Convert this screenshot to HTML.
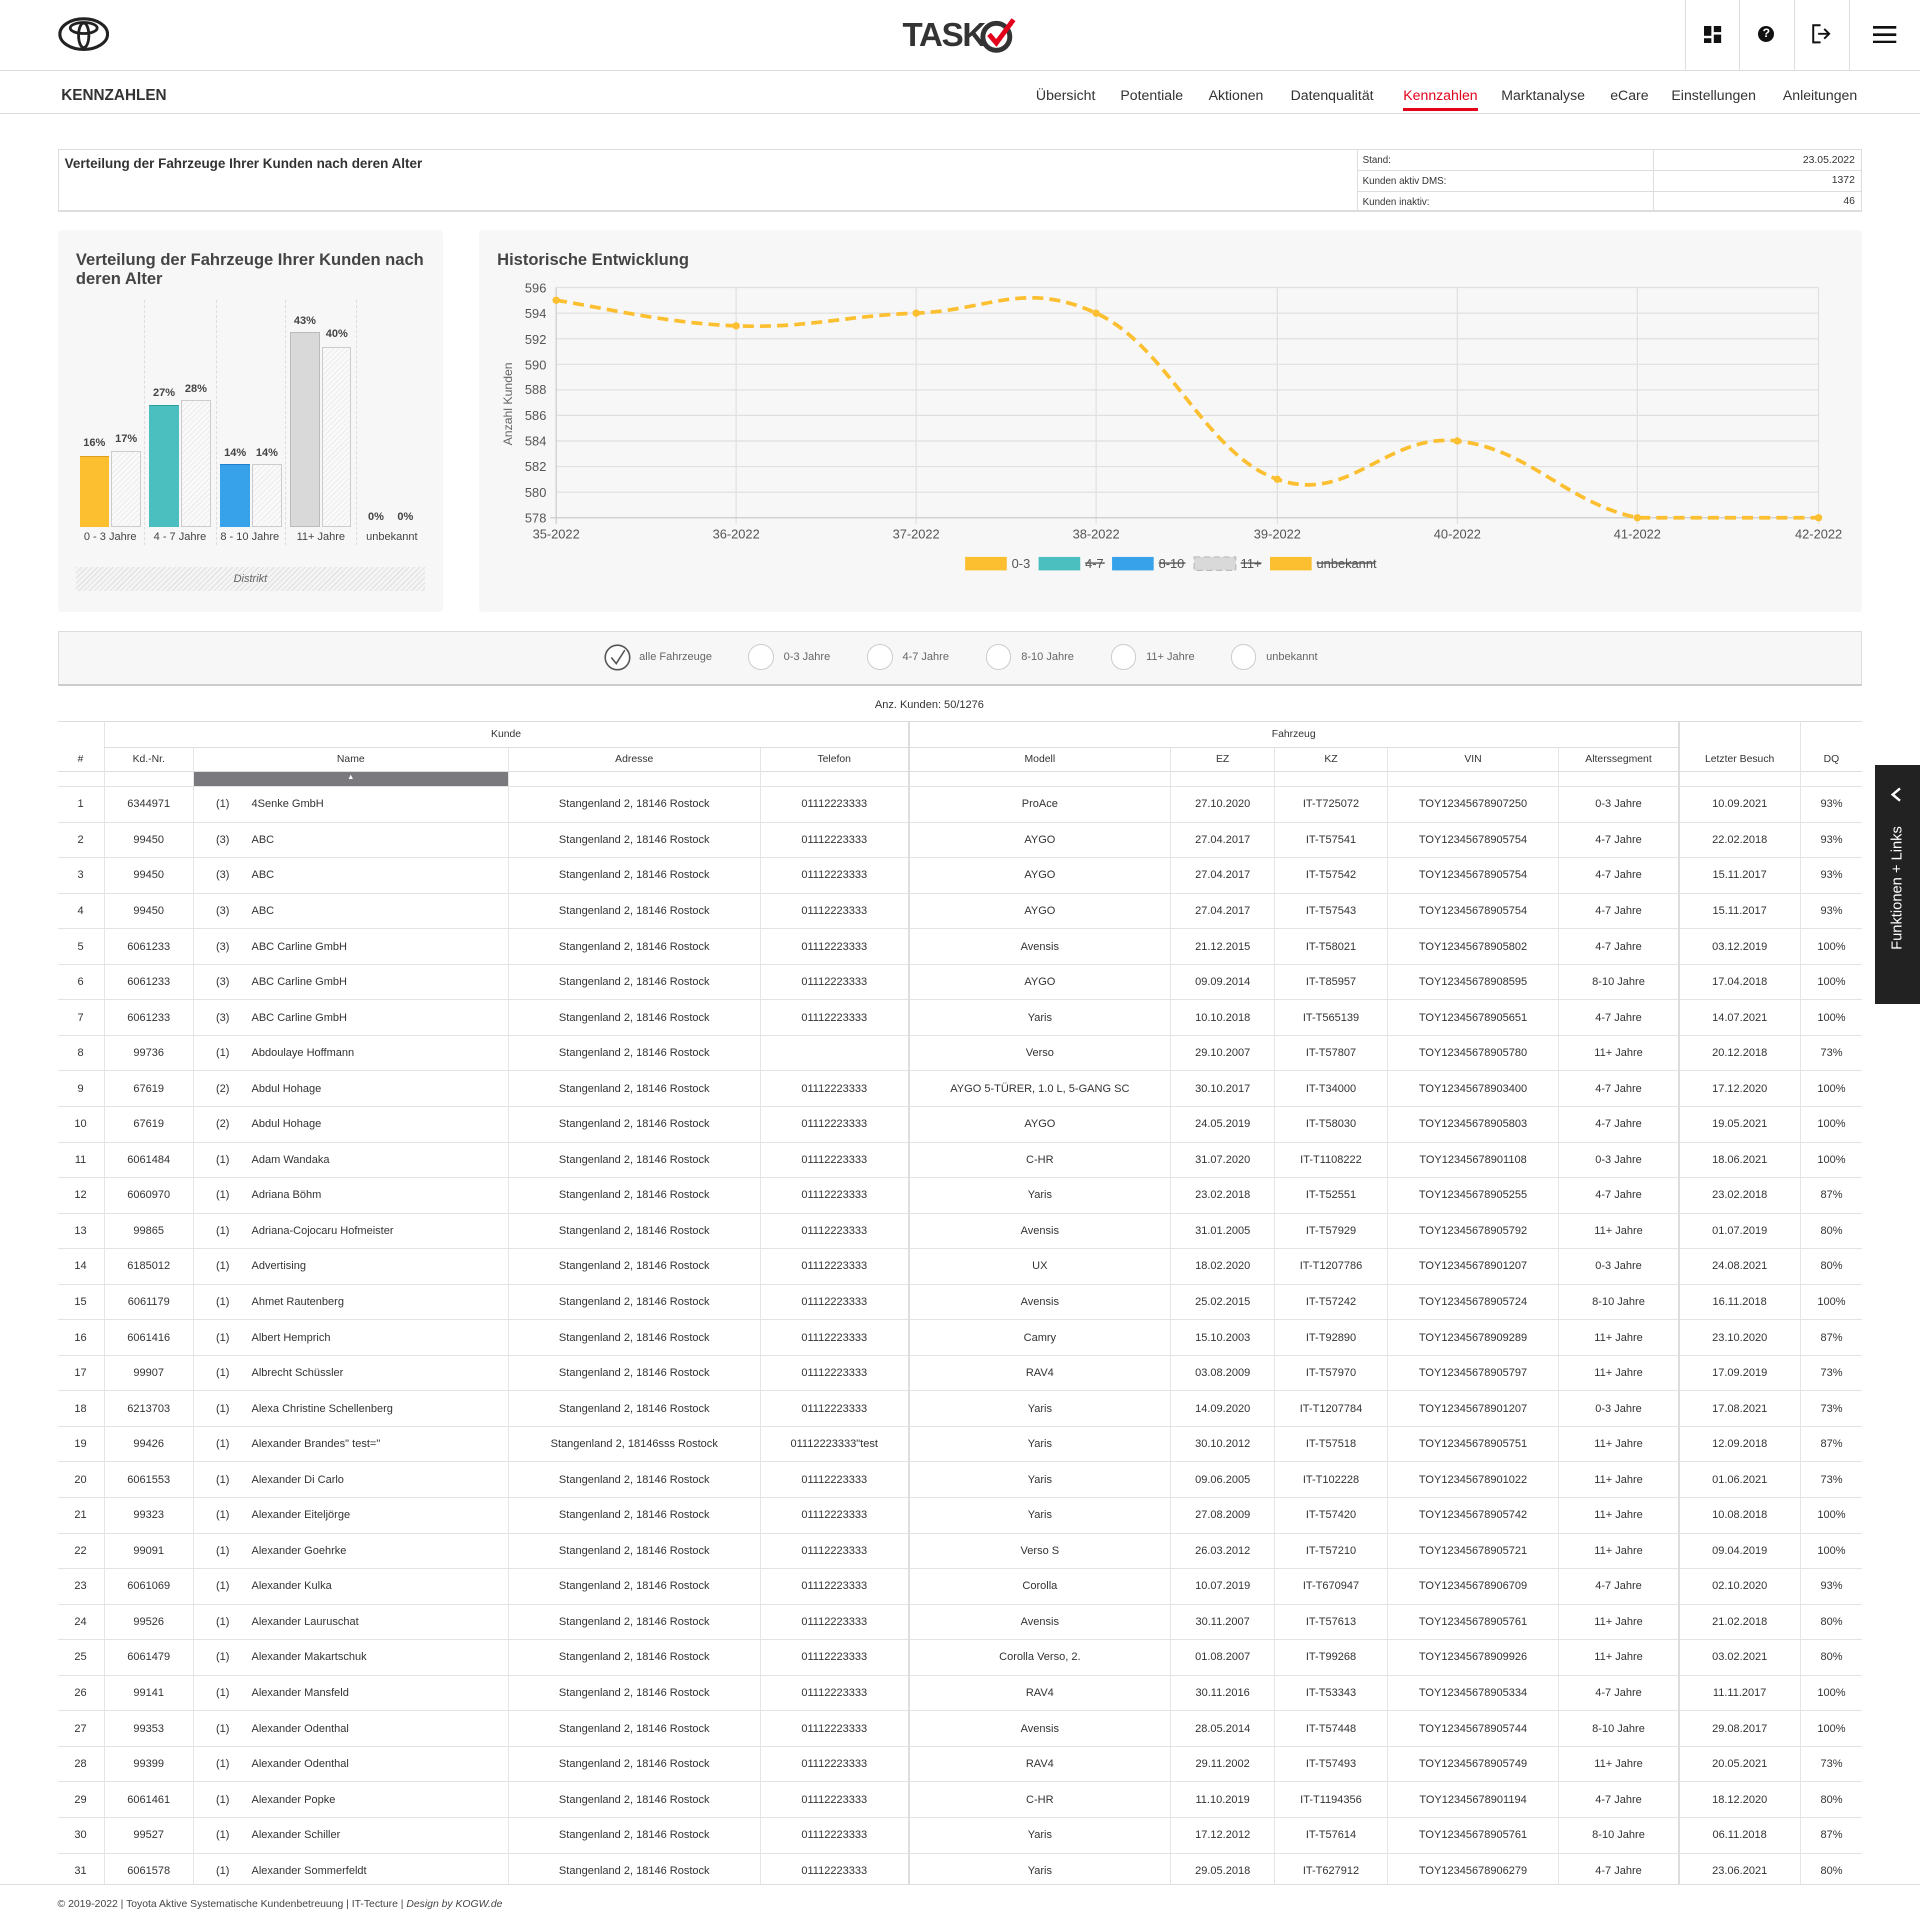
<!DOCTYPE html>
<html><head><meta charset="utf-8">
<style>
html,body{margin:0;padding:0;background:#fff;}
body{width:1920px;height:1920px;overflow:hidden;}
#w{width:1568px;height:1568px;position:relative;zoom:1.22449;font-family:"Liberation Sans",sans-serif;color:#333;overflow:hidden;}
.a{position:absolute;}
.hdr{left:0;top:0;width:1568px;height:57px;border-bottom:1px solid #ddd;}
.nav{left:0;top:58px;width:1568px;height:34px;border-bottom:1px solid #ddd;}
.nav span{position:absolute;top:13px;font-size:11.5px;color:#333;}
.ib{left:47px;top:122px;width:1472px;height:49px;border:1px solid #ddd;border-bottom:2px solid #ddd;}
.panel{background:#f7f7f7;border-radius:3px;}
.hatch{background:repeating-linear-gradient(135deg,#eee 0 1px,#fafafa 1px 3px);border:1px solid #ccc;box-sizing:border-box;}
.bl{position:absolute;font-size:9px;color:#444;font-weight:bold;text-align:center;width:30px;}
.xl{position:absolute;top:434px;font-size:9px;color:#444;text-align:center;width:60px;}
table{border-collapse:collapse;table-layout:fixed;position:absolute;left:47px;top:589px;width:1474px;font-size:9px;}
td,th{text-align:center;padding:0;white-space:nowrap;overflow:hidden;font-weight:normal;color:#333;}
tbody td{height:28.22px;border-top:1px solid #e3e3e3;}
th{font-size:8.5px;}
.bl2{border-left:2px solid #ddd;}
.bl1{border-left:1px solid #e5e5e5;}
td.n{text-align:left;}
td.n i{font-style:normal;display:inline-block;width:47px;text-align:left;padding-left:18px;box-sizing:border-box;}
.rd{position:absolute;top:526px;width:21px;height:21px;border:1px solid #ccc;border-radius:50%;box-sizing:border-box;background:#fff;}
.rl{position:absolute;top:532px;font-size:9px;color:#666;}
</style></head><body><div id="w">
<div class="a hdr">
 <svg class="a" style="left:47px;top:14px" width="42" height="28" viewBox="0 0 42 28"><ellipse cx="21" cy="14" rx="19.5" ry="12.5" fill="none" stroke="#222" stroke-width="2.5"/><ellipse cx="21" cy="9" rx="11" ry="4.5" fill="none" stroke="#222" stroke-width="2.3"/><ellipse cx="21" cy="15" rx="4.2" ry="10" fill="none" stroke="#222" stroke-width="2.3"/></svg>
 <div class="a" style="left:737px;top:14px;font-size:27px;font-weight:bold;color:#333;letter-spacing:-1px;">TASK</div>
 <svg class="a" style="left:799px;top:13px" width="32" height="32" viewBox="0 0 32 32"><circle cx="15" cy="17" r="11" fill="none" stroke="#333" stroke-width="4"/><path d="M9 15 L15 22 L29 3" fill="none" stroke="#e2001a" stroke-width="4"/></svg>
 <div class="a" style="left:1376px;top:0;width:1px;height:57px;background:#ddd"></div>
 <div class="a" style="left:1420px;top:0;width:1px;height:57px;background:#ddd"></div>
 <div class="a" style="left:1465px;top:0;width:1px;height:57px;background:#ddd"></div>
 <div class="a" style="left:1510px;top:0;width:1px;height:57px;background:#ddd"></div>
 <svg class="a" style="left:1392px;top:21px" width="14" height="14"><rect x="0" y="0" width="6" height="8" fill="#111"/><rect x="8" y="0" width="6" height="5" fill="#111"/><rect x="0" y="10" width="6" height="4" fill="#111"/><rect x="8" y="7" width="6" height="7" fill="#111"/></svg>
 <div class="a" style="left:1436px;top:21px;width:13px;height:13px;border-radius:50%;background:#111;color:#fff;font-size:10px;font-weight:bold;text-align:center;line-height:13px;">?</div>
 <svg class="a" style="left:1480px;top:20px" width="16" height="16"><path d="M7 1 H1 V15 H7" fill="none" stroke="#111" stroke-width="1.6"/><path d="M5 8 H14 M10 4 L14 8 L10 12" fill="none" stroke="#111" stroke-width="1.6"/></svg>
 <svg class="a" style="left:1530px;top:21px" width="19" height="14"><rect y="0" width="19" height="2.2" fill="#111"/><rect y="6" width="19" height="2.2" fill="#111"/><rect y="12" width="19" height="2.2" fill="#111"/></svg>
</div>
<div class="a nav">
 <span style="left:50px;font-weight:bold;color:#333;font-size:12.5px">KENNZAHLEN</span>
 <span style="left:846px">Übersicht</span><span style="left:915px">Potentiale</span><span style="left:987px">Aktionen</span><span style="left:1054px">Datenqualität</span><span style="left:1146px;color:#e2001a">Kennzahlen</span><span style="left:1226px">Marktanalyse</span><span style="left:1315px">eCare</span><span style="left:1365px">Einstellungen</span><span style="left:1456px">Anleitungen</span>
 <div class="a" style="left:1146px;top:30px;width:61px;height:3px;background:#e2001a"></div>
</div>
<div class="a ib">
 <div class="a" style="left:5px;top:5px;font-size:11px;font-weight:bold;color:#333">Verteilung der Fahrzeuge Ihrer Kunden nach deren Alter</div>
 <div class="a" style="left:1060px;top:0;width:1px;height:49px;background:#ddd"></div>
 <div class="a" style="left:1302px;top:0;width:1px;height:49px;background:#ddd"></div>
 <div class="a" style="left:1060px;top:16px;width:412px;height:1px;background:#ddd"></div>
 <div class="a" style="left:1060px;top:33px;width:412px;height:1px;background:#ddd"></div>
 <div class="a" style="left:1065px;top:4px;font-size:8px">Stand:</div><div class="a" style="right:5px;top:4px;font-size:8.5px">23.05.2022</div>
 <div class="a" style="left:1065px;top:21px;font-size:8px">Kunden aktiv DMS:</div><div class="a" style="right:5px;top:20px;font-size:8.5px">1372</div>
 <div class="a" style="left:1065px;top:38px;font-size:8px">Kunden inaktiv:</div><div class="a" style="right:5px;top:37px;font-size:8.5px">46</div>
</div>
<div class="a panel" style="left:47px;top:188px;width:315px;height:312px;"></div>
<div class="a" style="left:62px;top:204px;font-size:13.5px;font-weight:bold;color:#444;line-height:16px;width:290px">Verteilung der Fahrzeuge Ihrer Kunden nach deren Alter</div>
<div class="a" style="left:118px;top:245px;height:200px;border-left:1px dashed #ddd"></div>
<div class="a" style="left:176px;top:245px;height:200px;border-left:1px dashed #ddd"></div>
<div class="a" style="left:233px;top:245px;height:200px;border-left:1px dashed #ddd"></div>
<div class="a" style="left:291px;top:245px;height:200px;border-left:1px dashed #ddd"></div>
<div class="a" style="left:65px;top:372px;width:24px;height:58px;background:#fbbf2f;border-top:1px solid #d9a020;box-sizing:border-box"></div>
<div class="a hatch" style="left:91px;top:368px;width:24px;height:62px"></div>
<div class="a" style="left:122px;top:331px;width:24px;height:99px;background:#4bbfbf;border-top:1px solid #2a9d9d;box-sizing:border-box"></div>
<div class="a hatch" style="left:148px;top:327px;width:24px;height:103px"></div>
<div class="a" style="left:180px;top:379px;width:24px;height:51px;background:#37a2ea;border-top:1px solid #1f80c8;box-sizing:border-box"></div>
<div class="a hatch" style="left:206px;top:379px;width:24px;height:51px"></div>
<div class="a" style="left:237px;top:271px;width:24px;height:159px;background:#d9d9d9;border:1px solid #bbb;box-sizing:border-box"></div>
<div class="a hatch" style="left:263px;top:283px;width:24px;height:147px"></div>
<div class="bl" style="left:62px;top:357px">16%</div><div class="bl" style="left:88px;top:354px">17%</div>
<div class="bl" style="left:119px;top:316px">27%</div><div class="bl" style="left:145px;top:313px">28%</div>
<div class="bl" style="left:177px;top:365px">14%</div><div class="bl" style="left:203px;top:365px">14%</div>
<div class="bl" style="left:234px;top:257px">43%</div><div class="bl" style="left:260px;top:268px">40%</div>
<div class="bl" style="left:292px;top:417px">0%</div><div class="bl" style="left:316px;top:417px">0%</div>
<div class="xl" style="left:60px">0 - 3 Jahre</div><div class="xl" style="left:117px">4 - 7 Jahre</div><div class="xl" style="left:174px">8 - 10 Jahre</div><div class="xl" style="left:232px">11+ Jahre</div><div class="xl" style="left:290px">unbekannt</div>
<div class="a" style="left:62px;top:463px;width:285px;height:20px;background:repeating-linear-gradient(135deg,#e3e3e3 0 1px,#f5f5f5 1px 3px);font-size:9px;font-style:italic;color:#666;text-align:center;line-height:20px">Distrikt</div>
<div class="a panel" style="left:391px;top:188px;width:1130px;height:312px;"></div>
<div class="a" style="left:406px;top:204px;font-size:13.5px;font-weight:bold;color:#444">Historische Entwicklung</div>
<svg class="a" style="left:391px;top:188px" width="1130" height="312" viewBox="391 188 1130 312">
 <g stroke="#e0e0e0" stroke-width="1">
  <line x1="454" x2="1485" y1="235" y2="235"/><line x1="454" x2="1485" y1="255.9" y2="255.9"/><line x1="454" x2="1485" y1="276.8" y2="276.8"/><line x1="454" x2="1485" y1="297.7" y2="297.7"/><line x1="454" x2="1485" y1="318.6" y2="318.6"/><line x1="454" x2="1485" y1="339.4" y2="339.4"/><line x1="454" x2="1485" y1="360.3" y2="360.3"/><line x1="454" x2="1485" y1="381.2" y2="381.2"/><line x1="454" x2="1485" y1="402.1" y2="402.1"/>
  <line x1="601" x2="601" y1="235" y2="428"/><line x1="748" x2="748" y1="235" y2="428"/><line x1="895" x2="895" y1="235" y2="428"/><line x1="1043" x2="1043" y1="235" y2="428"/><line x1="1190" x2="1190" y1="235" y2="428"/><line x1="1337" x2="1337" y1="235" y2="428"/><line x1="1485" x2="1485" y1="235" y2="428"/>
 </g>
 <line x1="454" x2="454" y1="235" y2="428" stroke="#ccc"/><line x1="449" x2="1485" y1="423" y2="423" stroke="#ccc"/>
 <g font-family="Liberation Sans,sans-serif" font-size="10.5" fill="#555" text-anchor="end">
  <text x="446" y="239">596</text><text x="446" y="260">594</text><text x="446" y="281">592</text><text x="446" y="302">590</text><text x="446" y="322">588</text><text x="446" y="343">586</text><text x="446" y="364">584</text><text x="446" y="385">582</text><text x="446" y="406">580</text><text x="446" y="427">578</text>
 </g>
 <g font-family="Liberation Sans,sans-serif" font-size="10.5" fill="#555" text-anchor="middle">
  <text x="454" y="440">35-2022</text><text x="601" y="440">36-2022</text><text x="748" y="440">37-2022</text><text x="895" y="440">38-2022</text><text x="1043" y="440">39-2022</text><text x="1190" y="440">40-2022</text><text x="1337" y="440">41-2022</text><text x="1485" y="440">42-2022</text>
 </g>
 <text x="418" y="330" transform="rotate(-90 418 330)" text-anchor="middle" font-family="Liberation Sans,sans-serif" font-size="10" fill="#666">Anzahl Kunden</text>
 <path d="M454,245.4 C483.4,249.6 542.2,264.2 601,266.3 C659.8,268.4 689.2,258 748,255.9 C806.8,253.8 836,228.8 895,255.9 C954,283 984,370.7 1043,391.6 C1102,412.5 1131.2,354 1190,360.3 C1248.8,366.6 1278,410.5 1337,423 C1396,423 1455.4,423 1485,423" fill="none" stroke="#fbbf2f" stroke-width="3" stroke-dasharray="9,5"/>
 <g fill="#fbbf2f"><circle cx="454" cy="245.4" r="3"/><circle cx="601" cy="266.3" r="3"/><circle cx="748" cy="255.9" r="3"/><circle cx="895" cy="255.9" r="3"/><circle cx="1043" cy="391.6" r="3"/><circle cx="1190" cy="360.3" r="3"/><circle cx="1337" cy="423" r="3"/><circle cx="1485" cy="423" r="3"/></g>
 <rect x="788" y="455" width="34" height="11" fill="#fbbf2f"/>
 <rect x="848" y="455" width="34" height="11" fill="#4bbfbf"/>
 <rect x="908" y="455" width="34" height="11" fill="#37a2ea"/>
 <rect x="975" y="455" width="34" height="11" fill="#d9d9d9" stroke="#bbb" stroke-dasharray="5,3"/>
 <rect x="1037" y="455" width="34" height="11" fill="#fbbf2f"/>
 <g font-family="Liberation Sans,sans-serif" font-size="10.5" fill="#555">
  <text x="826" y="464">0-3</text><text x="886" y="464">4-7</text><text x="946" y="464">8-10</text><text x="1013" y="464">11+</text><text x="1075" y="464">unbekannt</text>
 </g>
 <g stroke="#555" stroke-width="1.2"><line x1="886" x2="902" y1="460" y2="460"/><line x1="946" x2="968" y1="460" y2="460"/><line x1="1013" x2="1030" y1="460" y2="460"/><line x1="1075" x2="1123" y1="460" y2="460"/></g>
</svg>
<div class="a" style="left:47px;top:515px;width:1472px;height:43px;background:#f7f7f7;border:1px solid #ddd;border-bottom:2px solid #ccc"></div>
<svg class="a" style="left:493px;top:526px" width="22" height="22"><circle cx="11" cy="11" r="10" fill="#fff" stroke="#555" stroke-width="1.3"/><path d="M6 11 L10 16 L17 5" fill="none" stroke="#555" stroke-width="1.3"/></svg>
<div class="rl" style="left:522px">alle Fahrzeuge</div>
<div class="rd" style="left:611px"></div><div class="rl" style="left:640px">0-3 Jahre</div>
<div class="rd" style="left:708px"></div><div class="rl" style="left:737px">4-7 Jahre</div>
<div class="rd" style="left:805px"></div><div class="rl" style="left:834px">8-10 Jahre</div>
<div class="rd" style="left:907px"></div><div class="rl" style="left:936px">11+ Jahre</div>
<div class="rd" style="left:1005px"></div><div class="rl" style="left:1034px">unbekannt</div>
<div class="a" style="left:0;width:1518px;top:571px;text-align:center;font-size:9px">Anz. Kunden: 50/1276</div>
<table>
<colgroup><col style="width:38px"><col style="width:73px"><col style="width:257px"><col style="width:206px"><col style="width:121px"><col style="width:214px"><col style="width:85px"><col style="width:92px"><col style="width:140px"><col style="width:98px"><col style="width:99px"><col style="width:51px"></colgroup>
<thead>
<tr style="height:21px;border-top:1px solid #ddd"><th rowspan="2" style="vertical-align:bottom;padding-bottom:5px">#</th><th colspan="4" class="bl1" style="border-bottom:1px solid #ddd">Kunde</th><th colspan="5" class="bl2" style="border-bottom:1px solid #ddd">Fahrzeug</th><th rowspan="2" class="bl2" style="vertical-align:bottom;padding-bottom:5px">Letzter Besuch</th><th rowspan="2" class="bl1" style="vertical-align:bottom;padding-bottom:5px">DQ</th></tr>
<tr style="height:20px"><th class="bl1">Kd.-Nr.</th><th class="bl1">Name</th><th class="bl1">Adresse</th><th class="bl1">Telefon</th><th class="bl2">Modell</th><th class="bl1">EZ</th><th class="bl1">KZ</th><th class="bl1">VIN</th><th class="bl1">Alterssegment</th></tr>
<tr style="height:12px;border-top:1px solid #ddd"><td></td><td class="bl1"></td><td class="bl1" style="background:#7a7a7e;color:#fff;font-size:6px;line-height:8px;vertical-align:top">▲</td><td class="bl1"></td><td class="bl1"></td><td class="bl2"></td><td class="bl1"></td><td class="bl1"></td><td class="bl1"></td><td class="bl1"></td><td class="bl2"></td><td class="bl1"></td></tr>
</thead>
<tbody>
<tr><td>1</td><td class="bl1">6344971</td><td class="n bl1"><i>(1)</i>4Senke GmbH</td><td class="bl1">Stangenland 2, 18146 Rostock</td><td class="bl1">01112223333</td><td class="bl2">ProAce</td><td class="bl1">27.10.2020</td><td class="bl1">IT-T725072</td><td class="bl1">TOY12345678907250</td><td class="bl1">0-3 Jahre</td><td class="bl2">10.09.2021</td><td class="bl1">93%</td></tr>
<tr><td>2</td><td class="bl1">99450</td><td class="n bl1"><i>(3)</i>ABC</td><td class="bl1">Stangenland 2, 18146 Rostock</td><td class="bl1">01112223333</td><td class="bl2">AYGO</td><td class="bl1">27.04.2017</td><td class="bl1">IT-T57541</td><td class="bl1">TOY12345678905754</td><td class="bl1">4-7 Jahre</td><td class="bl2">22.02.2018</td><td class="bl1">93%</td></tr>
<tr><td>3</td><td class="bl1">99450</td><td class="n bl1"><i>(3)</i>ABC</td><td class="bl1">Stangenland 2, 18146 Rostock</td><td class="bl1">01112223333</td><td class="bl2">AYGO</td><td class="bl1">27.04.2017</td><td class="bl1">IT-T57542</td><td class="bl1">TOY12345678905754</td><td class="bl1">4-7 Jahre</td><td class="bl2">15.11.2017</td><td class="bl1">93%</td></tr>
<tr><td>4</td><td class="bl1">99450</td><td class="n bl1"><i>(3)</i>ABC</td><td class="bl1">Stangenland 2, 18146 Rostock</td><td class="bl1">01112223333</td><td class="bl2">AYGO</td><td class="bl1">27.04.2017</td><td class="bl1">IT-T57543</td><td class="bl1">TOY12345678905754</td><td class="bl1">4-7 Jahre</td><td class="bl2">15.11.2017</td><td class="bl1">93%</td></tr>
<tr><td>5</td><td class="bl1">6061233</td><td class="n bl1"><i>(3)</i>ABC Carline GmbH</td><td class="bl1">Stangenland 2, 18146 Rostock</td><td class="bl1">01112223333</td><td class="bl2">Avensis</td><td class="bl1">21.12.2015</td><td class="bl1">IT-T58021</td><td class="bl1">TOY12345678905802</td><td class="bl1">4-7 Jahre</td><td class="bl2">03.12.2019</td><td class="bl1">100%</td></tr>
<tr><td>6</td><td class="bl1">6061233</td><td class="n bl1"><i>(3)</i>ABC Carline GmbH</td><td class="bl1">Stangenland 2, 18146 Rostock</td><td class="bl1">01112223333</td><td class="bl2">AYGO</td><td class="bl1">09.09.2014</td><td class="bl1">IT-T85957</td><td class="bl1">TOY12345678908595</td><td class="bl1">8-10 Jahre</td><td class="bl2">17.04.2018</td><td class="bl1">100%</td></tr>
<tr><td>7</td><td class="bl1">6061233</td><td class="n bl1"><i>(3)</i>ABC Carline GmbH</td><td class="bl1">Stangenland 2, 18146 Rostock</td><td class="bl1">01112223333</td><td class="bl2">Yaris</td><td class="bl1">10.10.2018</td><td class="bl1">IT-T565139</td><td class="bl1">TOY12345678905651</td><td class="bl1">4-7 Jahre</td><td class="bl2">14.07.2021</td><td class="bl1">100%</td></tr>
<tr><td>8</td><td class="bl1">99736</td><td class="n bl1"><i>(1)</i>Abdoulaye Hoffmann</td><td class="bl1">Stangenland 2, 18146 Rostock</td><td class="bl1"></td><td class="bl2">Verso</td><td class="bl1">29.10.2007</td><td class="bl1">IT-T57807</td><td class="bl1">TOY12345678905780</td><td class="bl1">11+ Jahre</td><td class="bl2">20.12.2018</td><td class="bl1">73%</td></tr>
<tr><td>9</td><td class="bl1">67619</td><td class="n bl1"><i>(2)</i>Abdul Hohage</td><td class="bl1">Stangenland 2, 18146 Rostock</td><td class="bl1">01112223333</td><td class="bl2">AYGO 5-TÜRER, 1.0 L, 5-GANG SC</td><td class="bl1">30.10.2017</td><td class="bl1">IT-T34000</td><td class="bl1">TOY12345678903400</td><td class="bl1">4-7 Jahre</td><td class="bl2">17.12.2020</td><td class="bl1">100%</td></tr>
<tr><td>10</td><td class="bl1">67619</td><td class="n bl1"><i>(2)</i>Abdul Hohage</td><td class="bl1">Stangenland 2, 18146 Rostock</td><td class="bl1">01112223333</td><td class="bl2">AYGO</td><td class="bl1">24.05.2019</td><td class="bl1">IT-T58030</td><td class="bl1">TOY12345678905803</td><td class="bl1">4-7 Jahre</td><td class="bl2">19.05.2021</td><td class="bl1">100%</td></tr>
<tr><td>11</td><td class="bl1">6061484</td><td class="n bl1"><i>(1)</i>Adam Wandaka</td><td class="bl1">Stangenland 2, 18146 Rostock</td><td class="bl1">01112223333</td><td class="bl2">C-HR</td><td class="bl1">31.07.2020</td><td class="bl1">IT-T1108222</td><td class="bl1">TOY12345678901108</td><td class="bl1">0-3 Jahre</td><td class="bl2">18.06.2021</td><td class="bl1">100%</td></tr>
<tr><td>12</td><td class="bl1">6060970</td><td class="n bl1"><i>(1)</i>Adriana Böhm</td><td class="bl1">Stangenland 2, 18146 Rostock</td><td class="bl1">01112223333</td><td class="bl2">Yaris</td><td class="bl1">23.02.2018</td><td class="bl1">IT-T52551</td><td class="bl1">TOY12345678905255</td><td class="bl1">4-7 Jahre</td><td class="bl2">23.02.2018</td><td class="bl1">87%</td></tr>
<tr><td>13</td><td class="bl1">99865</td><td class="n bl1"><i>(1)</i>Adriana-Cojocaru Hofmeister</td><td class="bl1">Stangenland 2, 18146 Rostock</td><td class="bl1">01112223333</td><td class="bl2">Avensis</td><td class="bl1">31.01.2005</td><td class="bl1">IT-T57929</td><td class="bl1">TOY12345678905792</td><td class="bl1">11+ Jahre</td><td class="bl2">01.07.2019</td><td class="bl1">80%</td></tr>
<tr><td>14</td><td class="bl1">6185012</td><td class="n bl1"><i>(1)</i>Advertising</td><td class="bl1">Stangenland 2, 18146 Rostock</td><td class="bl1">01112223333</td><td class="bl2">UX</td><td class="bl1">18.02.2020</td><td class="bl1">IT-T1207786</td><td class="bl1">TOY12345678901207</td><td class="bl1">0-3 Jahre</td><td class="bl2">24.08.2021</td><td class="bl1">80%</td></tr>
<tr><td>15</td><td class="bl1">6061179</td><td class="n bl1"><i>(1)</i>Ahmet Rautenberg</td><td class="bl1">Stangenland 2, 18146 Rostock</td><td class="bl1">01112223333</td><td class="bl2">Avensis</td><td class="bl1">25.02.2015</td><td class="bl1">IT-T57242</td><td class="bl1">TOY12345678905724</td><td class="bl1">8-10 Jahre</td><td class="bl2">16.11.2018</td><td class="bl1">100%</td></tr>
<tr><td>16</td><td class="bl1">6061416</td><td class="n bl1"><i>(1)</i>Albert Hemprich</td><td class="bl1">Stangenland 2, 18146 Rostock</td><td class="bl1">01112223333</td><td class="bl2">Camry</td><td class="bl1">15.10.2003</td><td class="bl1">IT-T92890</td><td class="bl1">TOY12345678909289</td><td class="bl1">11+ Jahre</td><td class="bl2">23.10.2020</td><td class="bl1">87%</td></tr>
<tr><td>17</td><td class="bl1">99907</td><td class="n bl1"><i>(1)</i>Albrecht Schüssler</td><td class="bl1">Stangenland 2, 18146 Rostock</td><td class="bl1">01112223333</td><td class="bl2">RAV4</td><td class="bl1">03.08.2009</td><td class="bl1">IT-T57970</td><td class="bl1">TOY12345678905797</td><td class="bl1">11+ Jahre</td><td class="bl2">17.09.2019</td><td class="bl1">73%</td></tr>
<tr><td>18</td><td class="bl1">6213703</td><td class="n bl1"><i>(1)</i>Alexa Christine Schellenberg</td><td class="bl1">Stangenland 2, 18146 Rostock</td><td class="bl1">01112223333</td><td class="bl2">Yaris</td><td class="bl1">14.09.2020</td><td class="bl1">IT-T1207784</td><td class="bl1">TOY12345678901207</td><td class="bl1">0-3 Jahre</td><td class="bl2">17.08.2021</td><td class="bl1">73%</td></tr>
<tr><td>19</td><td class="bl1">99426</td><td class="n bl1"><i>(1)</i>Alexander Brandes" test="</td><td class="bl1">Stangenland 2, 18146sss Rostock</td><td class="bl1">01112223333"test</td><td class="bl2">Yaris</td><td class="bl1">30.10.2012</td><td class="bl1">IT-T57518</td><td class="bl1">TOY12345678905751</td><td class="bl1">11+ Jahre</td><td class="bl2">12.09.2018</td><td class="bl1">87%</td></tr>
<tr><td>20</td><td class="bl1">6061553</td><td class="n bl1"><i>(1)</i>Alexander Di Carlo</td><td class="bl1">Stangenland 2, 18146 Rostock</td><td class="bl1">01112223333</td><td class="bl2">Yaris</td><td class="bl1">09.06.2005</td><td class="bl1">IT-T102228</td><td class="bl1">TOY12345678901022</td><td class="bl1">11+ Jahre</td><td class="bl2">01.06.2021</td><td class="bl1">73%</td></tr>
<tr><td>21</td><td class="bl1">99323</td><td class="n bl1"><i>(1)</i>Alexander Eiteljörge</td><td class="bl1">Stangenland 2, 18146 Rostock</td><td class="bl1">01112223333</td><td class="bl2">Yaris</td><td class="bl1">27.08.2009</td><td class="bl1">IT-T57420</td><td class="bl1">TOY12345678905742</td><td class="bl1">11+ Jahre</td><td class="bl2">10.08.2018</td><td class="bl1">100%</td></tr>
<tr><td>22</td><td class="bl1">99091</td><td class="n bl1"><i>(1)</i>Alexander Goehrke</td><td class="bl1">Stangenland 2, 18146 Rostock</td><td class="bl1">01112223333</td><td class="bl2">Verso S</td><td class="bl1">26.03.2012</td><td class="bl1">IT-T57210</td><td class="bl1">TOY12345678905721</td><td class="bl1">11+ Jahre</td><td class="bl2">09.04.2019</td><td class="bl1">100%</td></tr>
<tr><td>23</td><td class="bl1">6061069</td><td class="n bl1"><i>(1)</i>Alexander Kulka</td><td class="bl1">Stangenland 2, 18146 Rostock</td><td class="bl1">01112223333</td><td class="bl2">Corolla</td><td class="bl1">10.07.2019</td><td class="bl1">IT-T670947</td><td class="bl1">TOY12345678906709</td><td class="bl1">4-7 Jahre</td><td class="bl2">02.10.2020</td><td class="bl1">93%</td></tr>
<tr><td>24</td><td class="bl1">99526</td><td class="n bl1"><i>(1)</i>Alexander Lauruschat</td><td class="bl1">Stangenland 2, 18146 Rostock</td><td class="bl1">01112223333</td><td class="bl2">Avensis</td><td class="bl1">30.11.2007</td><td class="bl1">IT-T57613</td><td class="bl1">TOY12345678905761</td><td class="bl1">11+ Jahre</td><td class="bl2">21.02.2018</td><td class="bl1">80%</td></tr>
<tr><td>25</td><td class="bl1">6061479</td><td class="n bl1"><i>(1)</i>Alexander Makartschuk</td><td class="bl1">Stangenland 2, 18146 Rostock</td><td class="bl1">01112223333</td><td class="bl2">Corolla Verso, 2.</td><td class="bl1">01.08.2007</td><td class="bl1">IT-T99268</td><td class="bl1">TOY12345678909926</td><td class="bl1">11+ Jahre</td><td class="bl2">03.02.2021</td><td class="bl1">80%</td></tr>
<tr><td>26</td><td class="bl1">99141</td><td class="n bl1"><i>(1)</i>Alexander Mansfeld</td><td class="bl1">Stangenland 2, 18146 Rostock</td><td class="bl1">01112223333</td><td class="bl2">RAV4</td><td class="bl1">30.11.2016</td><td class="bl1">IT-T53343</td><td class="bl1">TOY12345678905334</td><td class="bl1">4-7 Jahre</td><td class="bl2">11.11.2017</td><td class="bl1">100%</td></tr>
<tr><td>27</td><td class="bl1">99353</td><td class="n bl1"><i>(1)</i>Alexander Odenthal</td><td class="bl1">Stangenland 2, 18146 Rostock</td><td class="bl1">01112223333</td><td class="bl2">Avensis</td><td class="bl1">28.05.2014</td><td class="bl1">IT-T57448</td><td class="bl1">TOY12345678905744</td><td class="bl1">8-10 Jahre</td><td class="bl2">29.08.2017</td><td class="bl1">100%</td></tr>
<tr><td>28</td><td class="bl1">99399</td><td class="n bl1"><i>(1)</i>Alexander Odenthal</td><td class="bl1">Stangenland 2, 18146 Rostock</td><td class="bl1">01112223333</td><td class="bl2">RAV4</td><td class="bl1">29.11.2002</td><td class="bl1">IT-T57493</td><td class="bl1">TOY12345678905749</td><td class="bl1">11+ Jahre</td><td class="bl2">20.05.2021</td><td class="bl1">73%</td></tr>
<tr><td>29</td><td class="bl1">6061461</td><td class="n bl1"><i>(1)</i>Alexander Popke</td><td class="bl1">Stangenland 2, 18146 Rostock</td><td class="bl1">01112223333</td><td class="bl2">C-HR</td><td class="bl1">11.10.2019</td><td class="bl1">IT-T1194356</td><td class="bl1">TOY12345678901194</td><td class="bl1">4-7 Jahre</td><td class="bl2">18.12.2020</td><td class="bl1">80%</td></tr>
<tr><td>30</td><td class="bl1">99527</td><td class="n bl1"><i>(1)</i>Alexander Schiller</td><td class="bl1">Stangenland 2, 18146 Rostock</td><td class="bl1">01112223333</td><td class="bl2">Yaris</td><td class="bl1">17.12.2012</td><td class="bl1">IT-T57614</td><td class="bl1">TOY12345678905761</td><td class="bl1">8-10 Jahre</td><td class="bl2">06.11.2018</td><td class="bl1">87%</td></tr>
<tr><td>31</td><td class="bl1">6061578</td><td class="n bl1"><i>(1)</i>Alexander Sommerfeldt</td><td class="bl1">Stangenland 2, 18146 Rostock</td><td class="bl1">01112223333</td><td class="bl2">Yaris</td><td class="bl1">29.05.2018</td><td class="bl1">IT-T627912</td><td class="bl1">TOY12345678906279</td><td class="bl1">4-7 Jahre</td><td class="bl2">23.06.2021</td><td class="bl1">80%</td></tr>
</tbody></table>
<div class="a" style="left:0;top:1539px;width:1568px;height:29px;background:#fff;border-top:1px solid #ddd"></div>
<div class="a" style="left:47px;top:1551px;font-size:8.5px;color:#444">© 2019-2022 | Toyota Aktive Systematische Kundenbetreuung | IT-Tecture | <i>Design by KOGW.de</i></div>
<div class="a" style="left:1531px;top:625px;width:37px;height:195px;background:#222"></div>
<svg class="a" style="left:1543px;top:642px" width="12" height="14"><path d="M9 2 L3 7 L9 12" fill="none" stroke="#fff" stroke-width="2"/></svg>
<div class="a" style="left:1480px;top:719px;width:140px;text-align:center;transform:rotate(-90deg);color:#fff;font-size:12px;">Funktionen + Links</div>
</div></body></html>
